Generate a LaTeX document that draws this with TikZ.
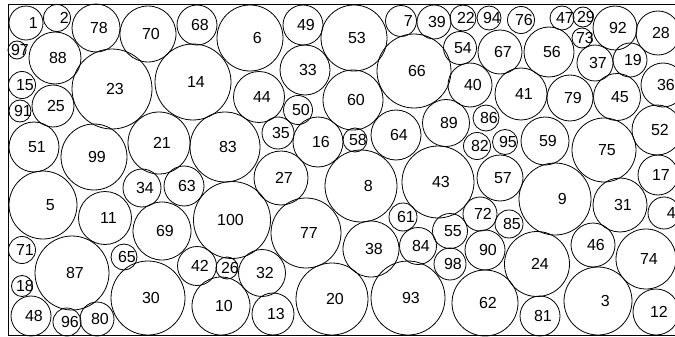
\documentclass[tikz,border=0pt]{standalone}
\usepackage{fontspec}
\setmainfont{Liberation Sans}
\begin{document}
\begin{tikzpicture}[x=1pt,y=-1pt,
  bub/.style={circle,draw=black,line width=0.8pt,inner sep=0pt,outer sep=0pt},
  lab/.style={inner sep=0pt,anchor=east,font=\fontsize{16}{16}\selectfont},
  frame/.style={draw=black,line width=1pt}]
\useasboundingbox (0,0) rectangle (675,337);
\clip (0,0) rectangle (675,337);
\newcommand\bub[4]{%
  \node[bub,minimum size={2*#4pt}] (c#1) at (#2,#3) {};
  \node[lab] (t#1) at ([xshift=12pt]c#1.center) {#1};}
\draw[frame] (8,5) rectangle (676,335);
\bub{1}{26}{23}{17}
\bub{2}{57}{18}{13.5}
\bub{3}{598}{301}{34}
\bub{4}{664}{213}{16}
\bub{5}{43}{205}{34}
\bub{6}{250}{38}{33}
\bub{7}{401}{21}{15.5}
\bub{8}{361}{186}{36}
\bub{9}{555}{199}{36}
\bub{10}{221}{306}{29}
\bub{11}{105}{218}{26.5}
\bub{12}{656}{312}{23}
\bub{13}{273}{314}{21}
\bub{14}{193}{82}{38}
\bub{15}{22}{85}{13.5}
\bub{16}{318}{142}{25}
\bub{17}{658}{175}{20}
\bub{18}{22}{286}{10.5}
\bub{19}{630}{60}{17}
\bub{20}{332}{299}{36}
\bub{21}{159}{143}{31}
\bub{22}{463}{18}{13}
\bub{23}{112}{89}{40}
\bub{24}{537}{264}{32.5}
\bub{25}{53}{106}{21}
\bub{26}{227}{268}{11}
\bub{27}{281}{178}{27}
\bub{28}{658}{33}{22}
\bub{29}{583}{17}{10}
\bub{30}{148}{298}{37}
\bub{31}{620}{205}{27}
\bub{32}{262}{273}{23.5}
\bub{33}{305}{70}{25}
\bub{34}{142}{188}{19}
\bub{35}{278}{133}{16}
\bub{36}{663}{85}{22}
\bub{37}{595}{63}{18}
\bub{38}{371}{249}{28}
\bub{39}{434}{22}{17}
\bub{40}{470}{85}{22}
\bub{41}{521}{94}{26}
\bub{42}{197}{266}{19.5}
\bub{43}{438}{182}{36}
\bub{44}{259}{97}{25.5}
\bub{45}{617}{97}{23.5}
\bub{46}{593}{245}{22}
\bub{47}{562}{18}{12}
\bub{48}{31}{316}{20}
\bub{49}{303}{25}{20}
\bub{50}{298}{110}{14.5}
\bub{51}{34}{147}{25}
\bub{52}{657}{130}{25}
\bub{53}{354}{38}{33}
\bub{54}{460}{48}{16.5}
\bub{55}{450}{231}{17.5}
\bub{56}{549}{52}{25}
\bub{57}{500}{178}{23}
\bub{58}{355}{140}{12}
\bub{59}{545}{141}{24}
\bub{60}{353}{100}{30}
\bub{61}{403}{217}{14}
\bub{62}{485}{303}{33}
\bub{63}{184}{186}{20}
\bub{64}{396}{135}{25}
\bub{65}{124}{257}{13}
\bub{66}{414}{71}{37}
\bub{67}{500}{52}{22}
\bub{68}{197}{25}{20}
\bub{69}{162}{231}{29}
\bub{70}{148}{34}{28}
\bub{71}{22}{250}{13.5}
\bub{72}{480}{214}{17}
\bub{73}{582}{38}{10}
\bub{74}{646}{259}{30}
\bub{75}{604}{150}{32}
\bub{76}{521}{20}{13.5}
\bub{77}{306}{233}{35}
\bub{78}{96}{28}{24}
\bub{79}{570}{98}{23}
\bub{80}{97}{319}{17}
\bub{81}{540}{316}{20}
\bub{82}{477}{146}{13.5}
\bub{83}{225}{147}{35}
\bub{84}{418}{246}{18.5}
\bub{85}{509}{224}{14}
\bub{86}{486}{118}{13}
\bub{87}{72}{273}{37}
\bub{88}{55}{58}{26}
\bub{89}{446}{123}{23.5}
\bub{90}{485}{250}{20}
\bub{91}{20}{111}{11}
\bub{92}{615}{28}{22}
\bub{93}{408}{298}{37}
\bub{94}{489}{18}{12}
\bub{95}{505}{142}{12.5}
\bub{96}{67}{322}{14}
\bub{97}{17}{50}{9}
\bub{98}{450}{264}{16}
\bub{99}{94}{157}{33}
\bub{100}{232}{220}{38.5}
\end{tikzpicture}
\end{document}
